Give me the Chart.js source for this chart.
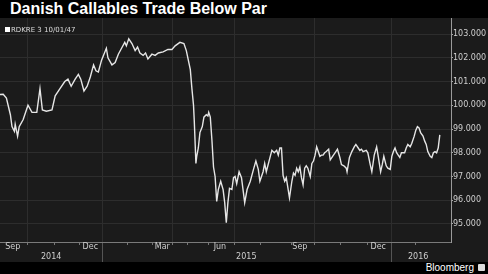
<!DOCTYPE html>
<html><head><meta charset="utf-8">
<script src="https://cdn.jsdelivr.net/npm/chart.js@4.4.1/dist/chart.umd.min.js"></script>
<style>
html,body{margin:0;padding:0;background:#000;width:488px;height:274px;overflow:hidden;}
#title{position:absolute;left:10px;top:0;height:18px;line-height:18px;font:bold 16px "Liberation Sans",Arial,sans-serif;color:#fff;white-space:nowrap;}
#wrap{position:absolute;left:0;top:18px;width:488px;height:244px;background:#1b1b1b;}
#legend{position:absolute;left:5px;top:8px;height:8px;line-height:8px;font:7px "DejaVu Sans",sans-serif;color:#ddd;white-space:nowrap;}
#legend span{display:inline-block;width:5px;height:5px;background:#fff;margin-right:1px;vertical-align:0px;}
#footer{position:absolute;right:14px;top:262px;height:12px;line-height:12px;font:10px "Liberation Sans",Arial,sans-serif;color:#fff;}
#icon{position:absolute;left:478px;top:264px;width:7px;height:7px;background:#ddd;border-radius:1px;}
canvas{position:absolute;left:0;top:0;}
</style></head>
<body>
<div id="title">Danish Callables Trade Below Par</div>
<div id="wrap"><canvas id="c" width="488" height="244"></canvas><div id="legend"></div></div>
<div id="footer">Bloomberg</div><div id="icon"></div>
<script>
// Series name
const seriesName = 'RDKRE 3 10/01/47';
// x: days since 28 Aug 2014
const dayIndex = [0,4,8,13,15,18,19,22,24,29,35,40,46,50,53,58,65,69,75,81,85,89,94,98,101,105,109,113,117,120,123,127,133,135,140,144,148,152,156,158,161,165,169,172,175,179,182,185,190,194,198,204,210,215,219,225,230,233,238,240,242,243,245,246,248,250,253,255,258,260,261,263,265,267,269,271,273,276,279,281,283,285,287,290,292,294,296,299,302,306,309,313,317,320,323,325,329,331,333,338,340,343,346,348,350,352,354,356,358,362,365,367,369,371,373,375,377,379,381,383,385,388,390,392,394,396,398,400,402,404,406,408,411,413,417,420,422,425,427,430,433,434,437,440,443,445,448,450,452,454,458,460,463,465,468,471,473,476,478,480,483,485,488,490,492,494,496,498,500,502,504,506,508,510,513,515,518,520,522,524,526,529,531,533,535,538,540,542,544,546,548,550];
// Price
const prices = [100.45,100.46,100.3,99.6,99.1,98.9,99.2,98.7,99.1,99.4,100.0,99.7,99.7,100.7,99.8,99.75,99.8,100.4,100.7,101.0,101.1,100.8,101.1,101.3,101.1,100.6,100.8,101.2,101.7,101.45,101.4,101.9,102.4,102.0,101.7,101.8,102.15,102.4,102.65,102.5,102.8,102.6,102.3,102.45,102.2,102.1,102.2,101.95,102.15,102.1,102.2,102.25,102.35,102.35,102.5,102.65,102.6,102.3,101.5,100.7,100.0,99.3,97.55,97.85,98.2,98.85,99.1,99.5,99.6,99.55,99.7,99.5,98.55,97.4,97.0,95.95,96.45,96.8,96.45,95.9,95.05,95.9,96.5,96.45,96.95,97.0,96.7,97.2,96.95,95.9,96.45,96.8,97.3,97.65,97.3,96.8,97.2,97.55,97.2,97.85,98.1,98.0,98.1,97.9,98.2,98.2,97.05,96.8,96.95,96.1,96.8,97.15,97.05,97.35,97.2,97.4,96.95,96.65,97.35,97.45,97.35,97.0,97.55,97.65,97.9,98.25,98.05,97.85,97.9,97.9,98.0,98.05,98.15,97.7,97.9,98.05,98.15,97.8,97.5,97.45,97.35,97.2,97.8,98.05,98.25,98.35,98.2,98.1,98.15,98.05,98.1,98.0,97.5,97.2,97.9,98.25,97.85,97.2,97.5,97.85,97.45,97.35,97.3,97.85,98.05,98.2,98.0,97.9,97.8,98.0,98.0,98.0,98.2,98.35,98.25,98.4,98.7,98.95,99.1,99.05,98.85,98.7,98.5,98.35,98.05,97.85,97.8,98.0,98.05,98.0,98.2,98.75];
// Axes
const yTickValues = [95,96,97,98,99,100,101,102,103];
const gridDays = [34,128,216,293,393,489];
const monthTickDays = [34,68,99,128,160,191,216,234,261,293,326,364,393,426,459,489,520];
const monthLabelDays = [16,113,203,275,375,473];
const monthLabels = ['Sep','Dec','Mar','Jun','Sep','Dec'];
const yearLabelDays = [64,308,523];
const yearLabels = ['2014','2015','2016'];
const yearSepDays = [128,489];
const X_MIN = 0, X_MAX = 564, Y_MIN = 94.242, Y_MAX = 103.674;

document.getElementById('legend').innerHTML = '<span></span>' + seriesName;

const GRID = '#2d2d2d';
const axisFont = {family:'DejaVu Sans', size:8};
const setTicks = vals => s => { s.ticks = vals.map(v => ({value:v})); };
const fixH = h => s => { s.height = h; s.paddingLeft = 0; s.paddingRight = 0; };

new Chart(document.getElementById('c'), {
  type:'line',
  data:{datasets:[{label:seriesName, data:dayIndex.map((d,i)=>({x:d,y:prices[i]})),
    borderColor:'#e6e6e6', borderWidth:1.4, pointRadius:0, tension:0, fill:false}]},
  options:{
    animation:false, responsive:false,
    layout:{padding:0},
    plugins:{legend:{display:false}, tooltip:{enabled:false}, title:{display:false}},
    scales:{
      x:{type:'linear', position:'bottom', min:X_MIN, max:X_MAX,
         afterBuildTicks:setTicks(monthTickDays), ticks:{display:false},
         grid:{color:c => (c.tick && gridDays.includes(c.tick.value)) ? GRID : 'rgba(0,0,0,0)', tickColor:'#777', tickLength:3},
         border:{color:'#7a7a7a'}, afterFit:fixH(0)},
      xs:{type:'linear', position:'bottom', min:X_MIN, max:X_MAX,
         afterBuildTicks:setTicks(yearSepDays), ticks:{display:false},
         grid:{drawOnChartArea:false, color:'#555', tickLength:20},
         border:{display:false}, afterFit:fixH(0)},
      xm:{type:'linear', position:'bottom', min:X_MIN, max:X_MAX,
         afterBuildTicks:setTicks(monthLabelDays),
         ticks:{color:'#cfcfcf', font:axisFont, padding:0, autoSkip:false, maxRotation:0,
                callback:v => monthLabels[monthLabelDays.indexOf(v)]},
         grid:{display:false, drawTicks:false}, border:{display:false}, afterFit:fixH(10)},
      xy:{type:'linear', position:'bottom', min:X_MIN, max:X_MAX,
         afterBuildTicks:setTicks(yearLabelDays),
         ticks:{color:'#cfcfcf', font:axisFont, padding:0, autoSkip:false, maxRotation:0,
                callback:v => yearLabels[yearLabelDays.indexOf(v)]},
         grid:{display:false, drawTicks:false}, border:{display:false}, afterFit:fixH(10)},
      y:{position:'right', min:Y_MIN, max:Y_MAX,
         afterBuildTicks:setTicks(yTickValues),
         ticks:{color:'#cfcfcf', font:axisFont, padding:0, callback:v => v.toFixed(3)},
         grid:{color:GRID, tickColor:'#aaa', tickLength:2},
         border:{color:'#9a9a9a'},
         afterFit:s => { s.width = 37; s.paddingTop = 0; s.paddingBottom = 0; }}
    }
  }
});
</script>
</body></html>
